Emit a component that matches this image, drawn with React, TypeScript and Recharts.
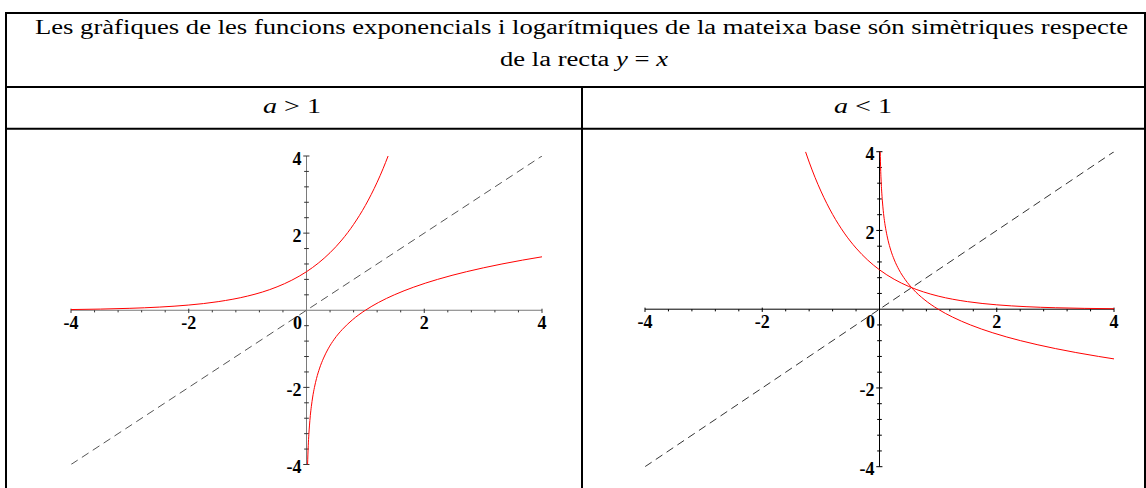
import React from 'react';
import { ComposedChart, Line, XAxis, YAxis, ReferenceLine, ReferenceDot } from 'recharts';

// ---------- texts ----------
const TITLE_LINE_1 =
  'Les gràfiques de les funcions exponencials i logarítmiques de la mateixa base són simètriques respecte';
const TITLE_LINE_2 = ['de la recta ', 'y', ' = ', 'x'];
const COLUMN_VARIABLE = 'a';
const COLUMN_RELATIONS = [' > 1', ' < 1'];

// ---------- axes ----------
const AXIS_DOMAIN: [number, number] = [-4, 4];
const X_TICK_VALUES = [-4, -2, 0, 2, 4];
const X_TICK_LABELS = ['-4', '-2', '0', '2', '4'];
const Y_TICK_VALUES = [-4, -2, 2, 4];
const Y_TICK_LABELS = ['-4', '-2', '2', '4'];
const MINOR_TICK_VALUES = [
  -4, -3.6, -3.2, -2.8, -2.4, -2, -1.6, -1.2, -0.8, -0.4, 0.4, 0.8, 1.2, 1.6, 2, 2.4, 2.8, 3.2, 3.6, 4,
];

// ---------- series: a > 1 (base e) ----------
const EXP_E_X = [-4, -3.5, -3, -2.5, -2, -1.5, -1, -0.75, -0.5, -0.25, 0, 0.2, 0.4, 0.6, 0.8, 1.0, 1.1, 1.2, 1.3, 1.386];
const EXP_E_Y = [0.018, 0.03, 0.05, 0.082, 0.135, 0.223, 0.368, 0.472, 0.607, 0.779, 1.0, 1.221, 1.492, 1.822, 2.226, 2.718, 3.004, 3.32, 3.669, 4.0];
const LOG_E_X = [0.018, 0.024, 0.03, 0.04, 0.05, 0.065, 0.082, 0.105, 0.135, 0.17, 0.223, 0.29, 0.368, 0.472, 0.607, 0.779, 1.0, 1.221, 1.492, 1.822, 2.226, 2.718, 3.004, 3.32, 3.669, 4.0];
const LOG_E_Y = [-4, -3.73, -3.5, -3.22, -3, -2.73, -2.5, -2.25, -2, -1.77, -1.5, -1.24, -1, -0.75, -0.5, -0.25, 0, 0.2, 0.4, 0.6, 0.8, 1.0, 1.1, 1.2, 1.3, 1.386];

// ---------- series: a < 1 (base 1/3) ----------
const EXP_THIRD_X = [-1.262, -1.2, -1.1, -1.0, -0.9, -0.8, -0.6, -0.4, -0.2, 0, 0.25, 0.5, 0.75, 1.0, 1.5, 2.0, 2.5, 3.0, 3.5, 4.0];
const EXP_THIRD_Y = [4.0, 3.737, 3.348, 3.0, 2.688, 2.408, 1.933, 1.552, 1.246, 1.0, 0.76, 0.577, 0.439, 0.333, 0.192, 0.111, 0.064, 0.037, 0.021, 0.012];
const LOG_THIRD_X = [0.0123, 0.016, 0.021, 0.028, 0.037, 0.049, 0.064, 0.084, 0.111, 0.146, 0.192, 0.253, 0.333, 0.439, 0.577, 0.76, 1.0, 1.246, 1.552, 1.933, 2.408, 2.688, 3.0, 3.348, 3.737, 4.0];
const LOG_THIRD_Y = [4.0, 3.76, 3.5, 3.25, 3.0, 2.75, 2.5, 2.25, 2.0, 1.75, 1.5, 1.25, 1.0, 0.75, 0.5, 0.25, 0, -0.2, -0.4, -0.6, -0.8, -0.9, -1.0, -1.1, -1.2, -1.262];

// ---------- y = x ----------
const DIAG_X = [-4, 4];
const DIAG_Y = [-4, 4];

type Pt = { x: number; y: number };
const zip = (xs: number[], ys: number[]): Pt[] => xs.map((x, i) => ({ x, y: ys[i] }));

const SERIF = "'Liberation Serif', 'Times New Roman', Tinos, serif";
const TICK_STYLE: React.CSSProperties = { fontFamily: SERIF, fontSize: '18px', fontWeight: 'bold' };
const HEAD_STYLE: React.CSSProperties = { fontFamily: SERIF, fontSize: '20px' };
const RED = '#ff0000';

interface PlotProps {
  width: number;
  height: number;
  margin: { top: number; right: number; bottom: number; left: number };
  axisColor: string;
  tickColor: string;
  diagColor: string;
  curves: Pt[][];
}

function Plot({ width, height, margin, axisColor, tickColor, diagColor, curves }: PlotProps) {
  const diag = zip(DIAG_X, DIAG_Y);
  const isMajor = (v: number) => X_TICK_VALUES.includes(v);
  return (
    <ComposedChart width={width} height={height} margin={margin}>
      <XAxis type="number" dataKey="x" domain={AXIS_DOMAIN} allowDataOverflow hide />
      <YAxis type="number" dataKey="y" domain={AXIS_DOMAIN} allowDataOverflow hide />
      <ReferenceLine x={0} stroke={axisColor} strokeWidth={1} ifOverflow="visible" />
      <ReferenceLine y={0} stroke={axisColor} strokeWidth={1} ifOverflow="visible" />
      {MINOR_TICK_VALUES.map((v) => (
        <ReferenceLine
          key={'xt' + v}
          segment={[
            { x: v, y: isMajor(v) ? 0.04 : 0 },
            { x: v, y: isMajor(v) ? -0.07 : -0.055 },
          ]}
          stroke={tickColor}
          strokeWidth={1}
          ifOverflow="visible"
        />
      ))}
      {MINOR_TICK_VALUES.map((v) => (
        <ReferenceLine
          key={'yt' + v}
          segment={[
            { x: isMajor(v) ? -0.055 : -0.04, y: v },
            { x: isMajor(v) ? 0.05 : 0.04, y: v },
          ]}
          stroke={tickColor}
          strokeWidth={1}
          ifOverflow="visible"
        />
      ))}
      <Line
        data={diag}
        dataKey="y"
        type="linear"
        stroke={diagColor}
        strokeWidth={1}
        strokeDasharray="8 5"
        dot={false}
        activeDot={false}
        isAnimationActive={false}
      />
      {curves.map((c, i) => (
        <Line
          key={'c' + i}
          data={c}
          dataKey="y"
          type="monotone"
          stroke={RED}
          strokeWidth={1}
          dot={false}
          activeDot={false}
          isAnimationActive={false}
        />
      ))}
      {X_TICK_VALUES.map((v, i) => (
        <ReferenceDot
          key={'xl' + v}
          x={v}
          y={0}
          r={0}
          ifOverflow="visible"
          shape={(p: any) => (
            <text x={p.cx + (v === 0 ? -9 : 0)} y={p.cy + 18.5} textAnchor="middle" style={TICK_STYLE} fill="#000">
              {X_TICK_LABELS[i]}
            </text>
          )}
        />
      ))}
      {Y_TICK_VALUES.map((v, i) => (
        <ReferenceDot
          key={'yl' + v}
          x={0}
          y={v}
          r={0}
          ifOverflow="visible"
          shape={(p: any) => (
            <text x={p.cx - 5} y={p.cy + 8.5} textAnchor="end" style={TICK_STYLE} fill="#000">
              {Y_TICK_LABELS[i]}
            </text>
          )}
        />
      ))}
    </ComposedChart>
  );
}

export default function App() {
  const line = (x1: number, y1: number, x2: number, y2: number) => (
    <line x1={x1} y1={y1} x2={x2} y2={y2} stroke="#000" strokeWidth={2} />
  );
  return (
    <div style={{ position: 'absolute', left: 0, top: 0, width: 1146, height: 488, background: '#fff', overflow: 'hidden' }}>
      <svg width={1146} height={488} style={{ position: 'absolute', left: 0, top: 0 }}>
        {line(5, 13, 1146, 13)}
        {line(6, 12, 6, 488)}
        {line(1145, 12, 1145, 488)}
        {line(5, 87, 1146, 87)}
        {line(5, 128.7, 1146, 128.7)}
        {line(582, 87, 582, 488)}
        <text x={581.5} y={34} textAnchor="middle" style={HEAD_STYLE} textLength={1093} lengthAdjust="spacingAndGlyphs" fill="#000">
          {TITLE_LINE_1}
        </text>
        <text x={584} y={65.5} textAnchor="middle" style={HEAD_STYLE} textLength={168} lengthAdjust="spacingAndGlyphs" fill="#000">
          <tspan>{TITLE_LINE_2[0]}</tspan>
          <tspan fontStyle="italic">{TITLE_LINE_2[1]}</tspan>
          <tspan>{TITLE_LINE_2[2]}</tspan>
          <tspan fontStyle="italic">{TITLE_LINE_2[3]}</tspan>
        </text>
        {COLUMN_RELATIONS.map((rel, i) => (
          <text key={rel} x={i === 0 ? 292 : 863} y={113} textAnchor="middle" style={HEAD_STYLE} textLength={58} lengthAdjust="spacingAndGlyphs" fill="#000">
            <tspan fontStyle="italic">{COLUMN_VARIABLE}</tspan>
            <tspan>{rel}</tspan>
          </text>
        ))}
      </svg>
      <div style={{ position: 'absolute', left: 0, top: 130 }}>
        <Plot
          width={580}
          height={358}
          margin={{ top: 26, left: 71, right: 38, bottom: 23.5 }}
          axisColor="#7a7a7a"
          tickColor="#333"
          diagColor="#555"
          curves={[zip(EXP_E_X, EXP_E_Y), zip(LOG_E_X, LOG_E_Y)]}
        />
      </div>
      <div style={{ position: 'absolute', left: 584, top: 130 }}>
        <Plot
          width={560}
          height={358}
          margin={{ top: 21.7, left: 61, right: 30, bottom: 21.3 }}
          axisColor="#000"
          tickColor="#000"
          diagColor="#333"
          curves={[zip(EXP_THIRD_X, EXP_THIRD_Y), zip(LOG_THIRD_X, LOG_THIRD_Y)]}
        />
      </div>
    </div>
  );
}
